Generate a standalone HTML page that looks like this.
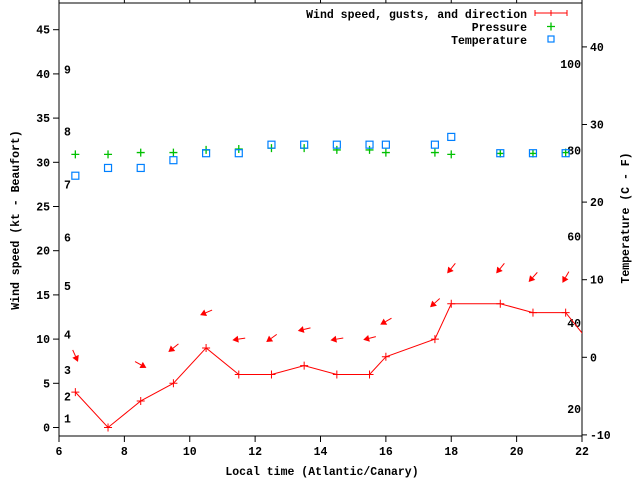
<!DOCTYPE html>
<html><head><meta charset="utf-8"><style>
html,body{margin:0;padding:0;background:#fff}
svg{display:block}
text{font-family:"Liberation Mono",monospace;font-weight:bold;font-size:11.5px;fill:#000}
</style></head><body>
<svg id="chart" width="640" height="480" xmlns="http://www.w3.org/2000/svg">
<rect width="640" height="480" fill="#fff"/>
<g id="axes"></g>
<g id="marks"></g>
<g id="legend">
<text x="527" y="18" text-anchor="end">Wind speed, gusts, and direction</text>
<path d="M535 13H567M535 10V16M551 10V16M567 10V16" stroke="#f00" stroke-width="1"/>
<text x="527" y="31" text-anchor="end">Pressure</text>
<path d="M547 26.5H555M551 22.5V30.5" stroke="#00c000" stroke-width="1.3"/>
<text x="527" y="44" text-anchor="end">Temperature</text>
<rect x="548" y="36" width="6" height="6" fill="none" stroke="#0080ff" stroke-width="1.2"/>
</g>
<text x="322" y="475" text-anchor="middle">Local time (Atlantic/Canary)</text>
<text transform="translate(19,220) rotate(-90)" text-anchor="middle">Wind speed (kt - Beaufort)</text>
<text transform="translate(629,218) rotate(-90)" text-anchor="middle">Temperature (C - F)</text>
</svg>
<script>
const hours = [6.5,7.5,8.5,9.5,10.5,11.5,12.5,13.5,14.5,15.5,16,17.5,18,19.5,20.5,21.5,22.5];
const windKt = [4,0,3,5,9,6,6,7,6,6,8,10,14,14,13,13,8.4];
const gustHours = [6.5,8.5,9.5,10.5,11.5,12.5,13.5,14.5,15.5,16,17.5,18,19.5,20.5,21.5];
const gustKt = [8.1,7.1,9.0,13.0,10.0,10.1,11.1,10.0,10.1,12.0,14.1,18.0,18.0,17.0,17.0];
const windFromDeg = [336,299,51,67,81,54,77,80,76,60,48,39,39,42,30];
const obsHours = [6.5,7.5,8.5,9.5,10.5,11.5,12.5,13.5,14.5,15.5,16,17.5,18,19.5,20.5,21.5];
const pressure = [30.9,30.9,31.1,31.1,31.4,31.5,31.6,31.6,31.4,31.4,31.1,31.1,30.9,31.0,31.0,31.1];
const tempC = [23.4,24.4,24.4,25.4,26.3,26.3,27.4,27.4,27.4,27.4,27.4,27.4,28.4,26.3,26.3,26.3];
const xTicks = [6,8,10,12,14,16,18,20,22];
const yTicks = [0,5,10,15,20,25,30,35,40,45];
const y2Ticks = [-10,0,10,20,30,40];
const fTicks = [20,40,60,80,100];
const beaufortLabels = ['1','2','3','4','5','6','7','8','9'];
const beaufortKt = [1,3.5,6.5,10.5,16,21.5,27.5,33.5,40.5];

const L=59,R=582,T=3,B=436;
const X=h=>L+(h-6)*(R-L)/16;
const Y=k=>427.5-k*8.84;
const Y2=c=>357.3-c*7.76;
const NS='http://www.w3.org/2000/svg';
function mk(tag,attrs,parent){const e=document.createElementNS(NS,tag);for(const k in attrs)e.setAttribute(k,attrs[k]);parent.appendChild(e);return e;}
const axes=document.getElementById('axes'),marks=document.getElementById('marks');
const clip=mk('clipPath',{id:'clp'},document.getElementById('chart'));
mk('rect',{x:L,y:T,width:R-L,height:B-T},clip);
let border=mk('rect',{x:L,y:T,width:R-L,height:B-T,fill:'none',stroke:'#000','stroke-width':1},axes);


xTicks.forEach(v=>{const x=X(v);
 let t=mk('path',{d:`M${x} ${B}V${B+6}M${x} ${T}V${T-6}`,stroke:'#000'},axes);
 
 
 let l=mk('text',{x:x,y:B+19,'text-anchor':'middle'},axes);l.textContent=v;
 
 });
yTicks.forEach(v=>{const y=Y(v);
 let t=mk('path',{d:`M${L-6} ${y}H${L}`,stroke:'#000'},axes);
 
 
 let l=mk('text',{x:L-9,y:y+4,'text-anchor':'end'},axes);l.textContent=v;
 
 });
y2Ticks.forEach(v=>{const y=Y2(v);
 let t=mk('path',{d:`M${R} ${y}H${R+5}`,stroke:'#000'},axes);
 
 
 let l=mk('text',{x:R+8,y:y+4,'text-anchor':'start'},axes);l.textContent=v;
 
 });
fTicks.forEach(v=>{const y=Y2((v-32)*5/9);
 let l=mk('text',{x:R-1,y:y+4,'text-anchor':'end'},axes);l.textContent=v;
 
 });
beaufortLabels.forEach((b,i)=>{
 let l=mk('text',{x:64,y:Y(beaufortKt[i])+4},axes);l.textContent=b;
 
 });
const g=mk('g',{'clip-path':'url(#clp)'},marks);
// pressure
pressure.forEach((p,i)=>{const x=X(obsHours[i]),y=Y(p);
 let m=mk('path',{d:`M${x-4} ${y}H${x+4}M${x} ${y-4}V${y+4}`,stroke:'#00c000','stroke-width':1.3},g);
 
 });
// temperature
tempC.forEach((c,i)=>{const x=X(obsHours[i]),y=Y2(c);
 let m=mk('rect',{x:x-3.5,y:y-3.5,width:7,height:7,fill:'none',stroke:'#0080ff','stroke-width':1.2},g);
 
 });
// wind line
let line=mk('polyline',{points:hours.map((h,i)=>X(h)+','+Y(windKt[i])).join(' '),fill:'none',stroke:'#f00','stroke-width':1},g);


hours.forEach((h,i)=>{const x=X(h),y=Y(windKt[i]);
 let m=mk('path',{d:`M${x-4} ${y}H${x+4}M${x} ${y-4}V${y+4}`,stroke:'#f00'},g);
 
 });
// gust arrows
gustKt.forEach((k,i)=>{const cx=X(gustHours[i]),cy=Y(k);
 const to=(windFromDeg[i]+180)*Math.PI/180;
 const dx=Math.sin(to),dy=-Math.cos(to),len=13;
 const hx=cx+dx*len/2,hy=cy+dy*len/2,tx=cx-dx*len/2,ty=cy-dy*len/2;
 const px=-dy,py=dx,hl=6,hw=3.5;
 const bx=hx-dx*hl,by=hy-dy*hl;
 let a=mk('g',{},g);
 
 
 mk('line',{x1:tx,y1:ty,x2:bx,y2:by,stroke:'#f00'},a);
 mk('polygon',{points:`${hx},${hy} ${bx+px*hw},${by+py*hw} ${bx-px*hw},${by-py*hw}`,fill:'#f00'},a);});
</script>
</body></html>
